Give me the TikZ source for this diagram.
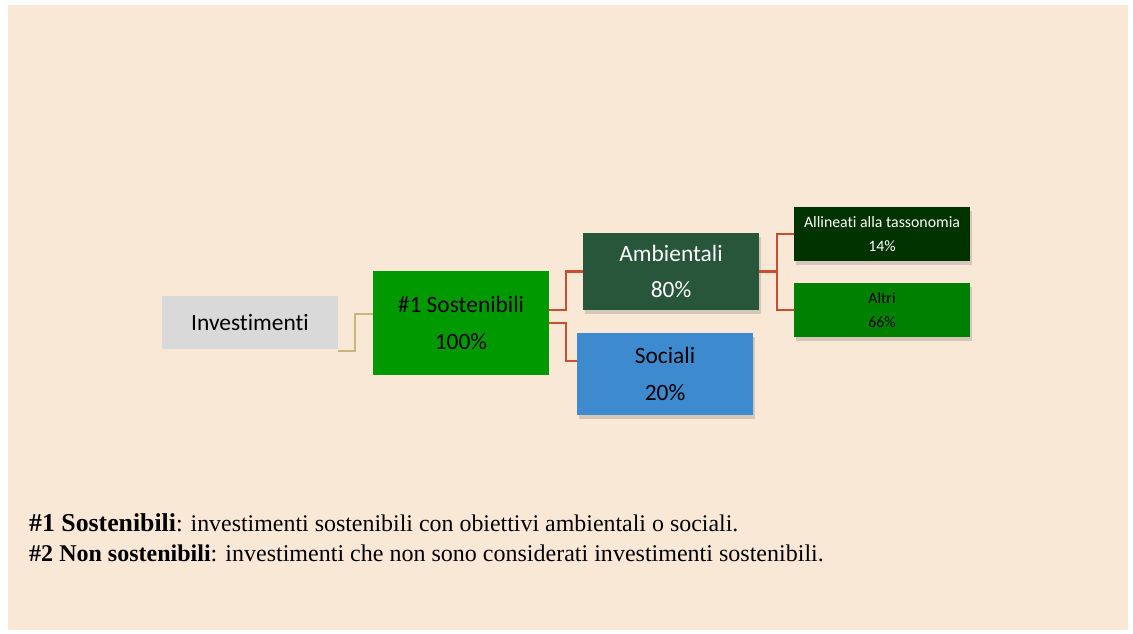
\documentclass[tikz,border=0pt]{standalone}
\usepackage{fontspec}
\setmainfont{Liberation Serif}
\newfontfamily\boxfont[Ligatures=NoCommon]{Carlito}
\usetikzlibrary{calc,shadows}
\definecolor{peach}{HTML}{FAE8D7}
\definecolor{invgrey}{HTML}{D9D9D9}
\definecolor{sostgreen}{HTML}{009900}
\definecolor{ambgreen}{HTML}{27563A}
\definecolor{socblue}{HTML}{3E8ACF}
\definecolor{taxgreen}{HTML}{003300}
\definecolor{altgreen}{HTML}{008000}
\definecolor{linkred}{HTML}{C9502E}
\definecolor{linktan}{HTML}{C8B77A}
\begin{document}
\begin{tikzpicture}[x=.03cm, y=-.03cm,
		bigbox/.style={minimum width=5.28cm, inner sep=0pt, align=center, font=\boxfont\fontsize{20}{31.5}\selectfont},
		smallbox/.style={minimum width=5.28cm, minimum height=1.62cm, inner sep=0pt, align=center, font=\boxfont\fontsize{13.5}{20.4}\selectfont},
		shade/.style={drop shadow={shadow xshift=2pt, shadow yshift=-3pt, opacity=.25, fill=black!60}},
		redlink/.style={draw=linkred, line width=2pt},
		tanlink/.style={draw=linktan, line width=1.4pt}]
		\useasboundingbox (0,0) rectangle (1133,633);
		\fill[peach] (8,5) rectangle (1128,630);

		\node[bigbox, fill=invgrey, minimum height=1.59cm] (inv) at (250,322.5) {Investimenti};
		\node[bigbox, fill=sostgreen, minimum height=3.12cm] (sost) at (461,323) {\#1 Sostenibili\\100\%};
		\node[bigbox, fill=ambgreen, text=white, minimum height=2.31cm, shade] (amb) at (671,271.5) {Ambientali\\80\%};
		\node[bigbox, fill=socblue, minimum height=2.46cm, shade] (soc) at (665,374) {Sociali\\20\%};
		\node[smallbox, fill=taxgreen, text=white, shade] (tax) at (882,234) {Allineati alla tassonomia\\14\%};
		\node[smallbox, fill=altgreen, shade] (alt) at (882,310) {Altri\\66\%};

		\draw[tanlink] ($(inv.south east)+(0,2)$) -- ++(17,0) |- ($(sost.west)+(0,-9)$);
		\draw[redlink] ($(sost.east)+(0,-13)$) -- ++(17,0) |- (amb.west);
		\draw[redlink] (sost.east) -- ++(17,0) |- ($(soc.west)+(0,-13)$);
		\draw[redlink] (amb.east) -- ++(18,0) |- (tax.west);
		\draw[redlink] (amb.east) -- ++(18,0) |- (alt.west);

		\node[anchor=base west, inner sep=0pt, font=\fontsize{20.4}{22}\selectfont] (leg1) at (29,531.7) {{\fontsize{22}{22}\selectfont\bfseries \#1 Sostenibili}: investimenti sostenibili con obiettivi ambientali o sociali.};
		\node[anchor=base west, inner sep=0pt, font=\fontsize{20.5}{22}\selectfont] (leg2) at (29,561.7) {\textbf{\#2 Non sostenibili}: investimenti che non sono considerati investimenti sostenibili.};
	\end{tikzpicture}
\end{document}
